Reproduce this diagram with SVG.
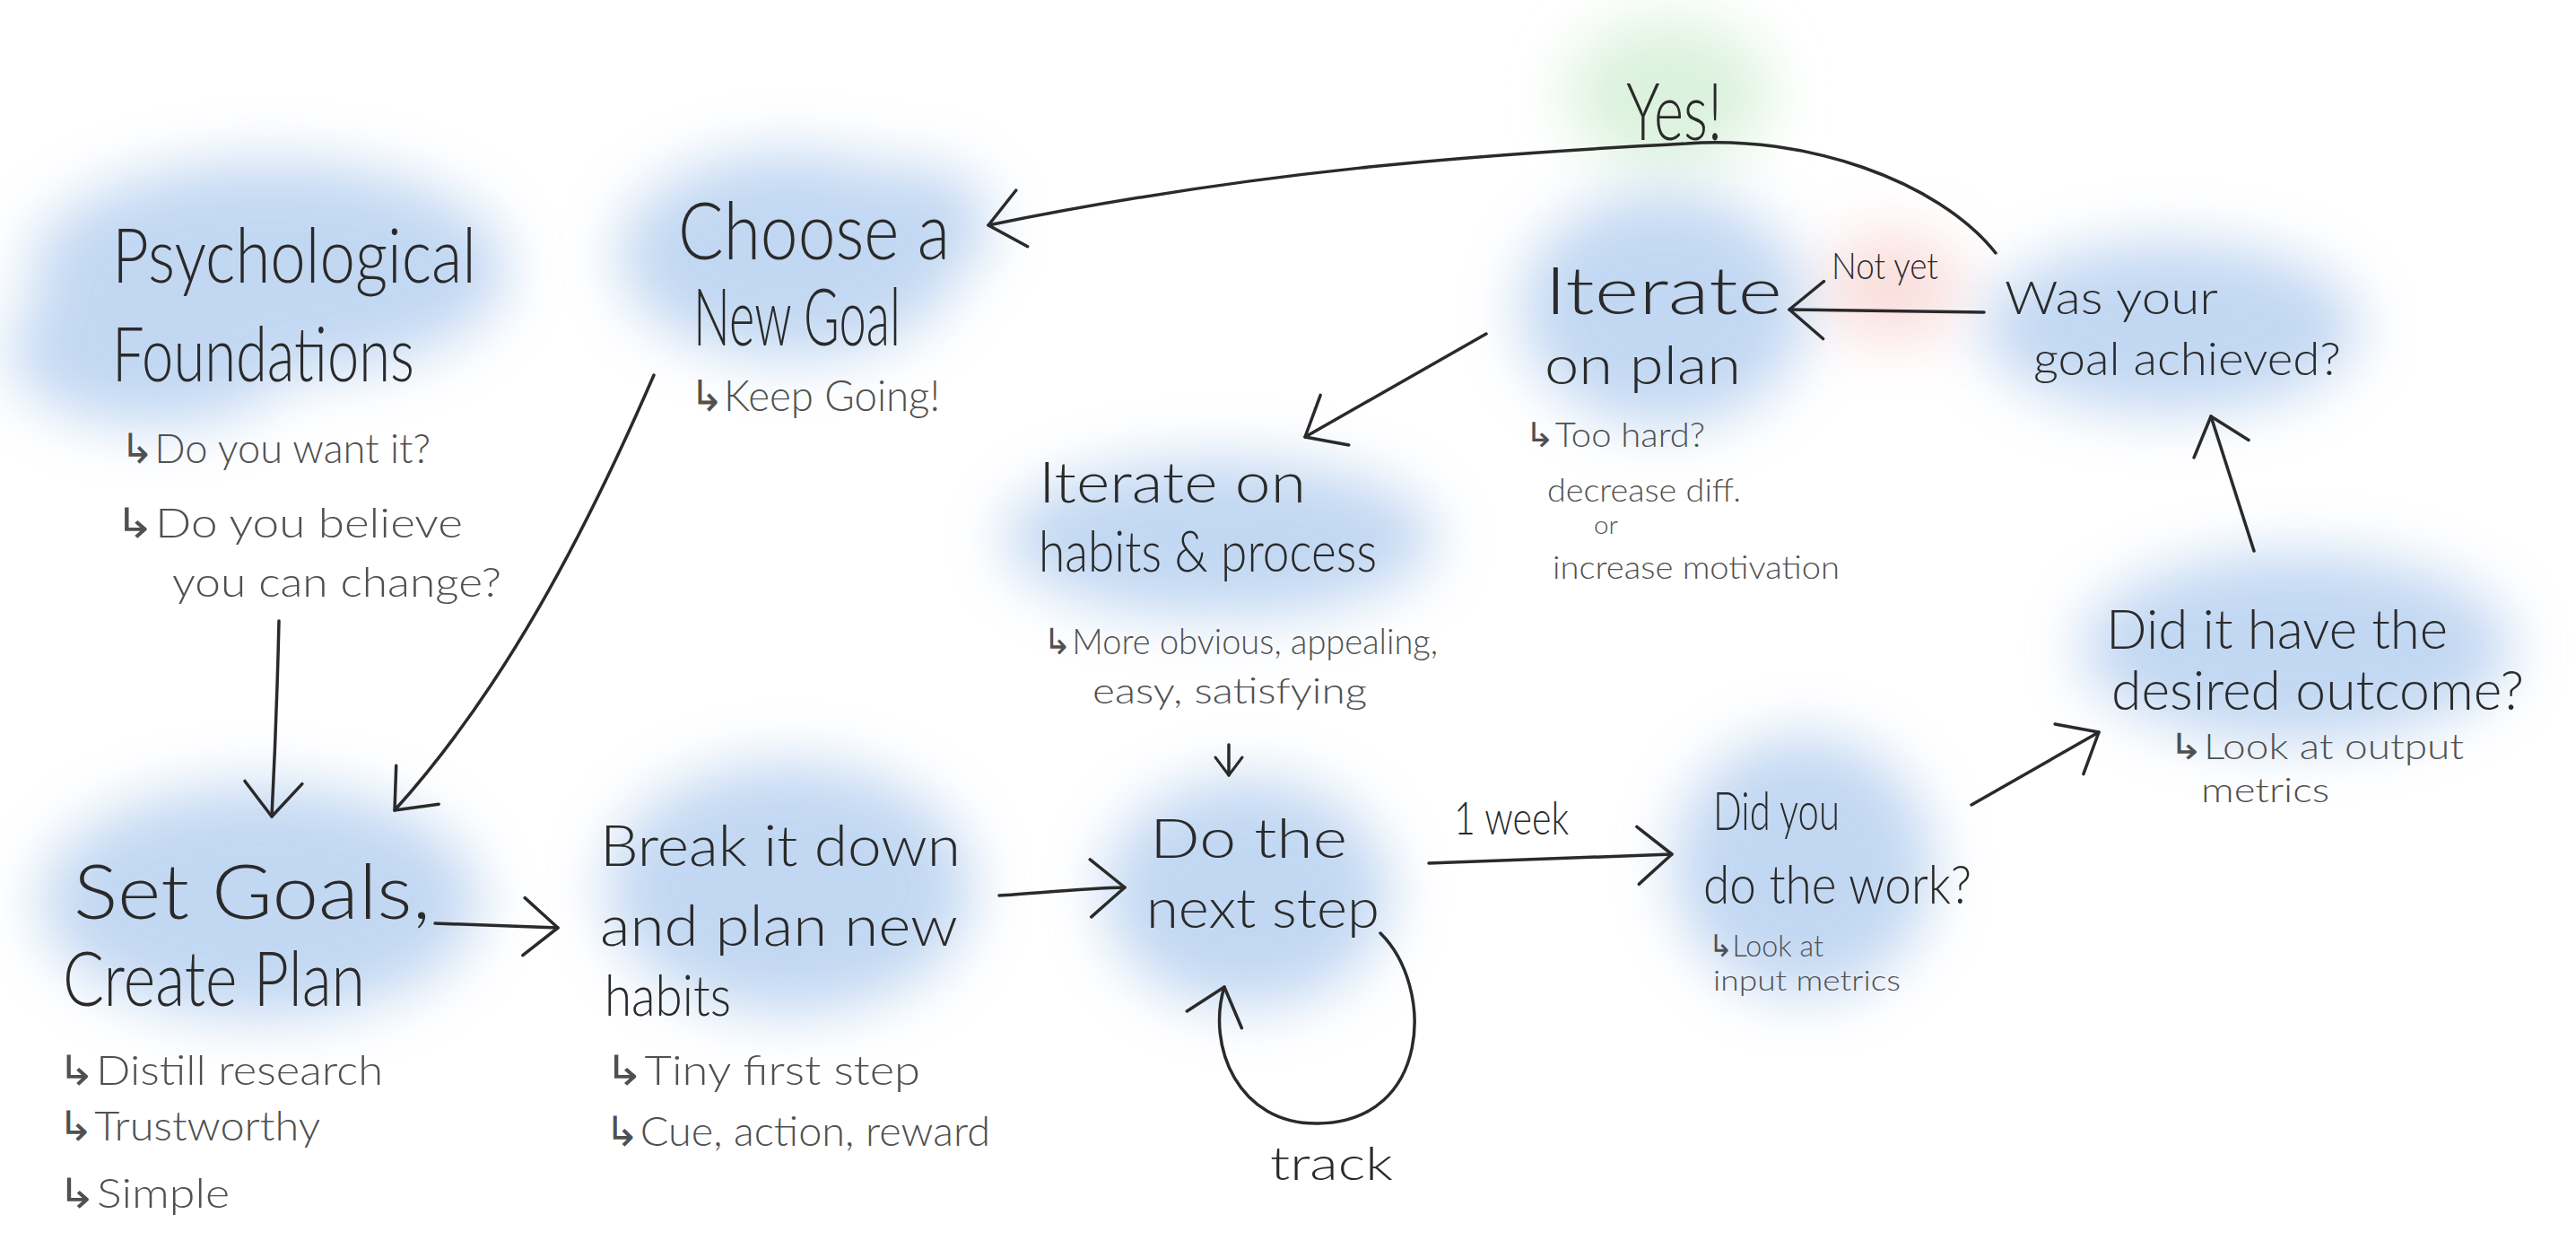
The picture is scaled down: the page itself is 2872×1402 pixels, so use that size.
<svg xmlns="http://www.w3.org/2000/svg" width="2872" height="1402" viewBox="0 0 2872 1402">
<defs>
<filter id="wash" x="-50%" y="-50%" width="200%" height="200%"><feGaussianBlur stdDeviation="32"/></filter>
<marker id="ah" viewBox="-50 -40 60 80" markerWidth="60" markerHeight="80" refX="0" refY="0" orient="auto" markerUnits="userSpaceOnUse"><path d="M-38,-32 L0,0 L-38,32" fill="none" stroke="#2a2a2a" stroke-width="3.5" stroke-linecap="round" stroke-linejoin="round"/></marker>
<marker id="ahs" viewBox="-30 -20 40 40" markerWidth="40" markerHeight="40" refX="0" refY="0" orient="auto" markerUnits="userSpaceOnUse"><path d="M-20,-15 L0,0 L-20,15" fill="none" stroke="#2a2a2a" stroke-width="3" stroke-linecap="round" stroke-linejoin="round"/></marker>
</defs>
<style>
text{font-family:"Lato","Liberation Sans","DejaVu Sans",sans-serif;font-weight:300;fill:#2a2a2a}
.sub{fill:#505050}
.wash{filter:url(#wash);opacity:.62}
.blue{fill:#9dc0ea}
.green{fill:#c6eac9}
.red{fill:#f6cbc7}
.conn{fill:none;stroke:#2a2a2a;stroke-width:3.5;stroke-linecap:round;stroke-linejoin:round}
</style>
<rect width="2872" height="1402" fill="#ffffff"/>

<g id="node-psych">
<g class="wash blue"><ellipse cx="300" cy="300" rx="265" ry="120"/><ellipse cx="170" cy="390" rx="160" ry="85"/></g>
<text x="125" y="315" font-size="84" textLength="406" lengthAdjust="spacingAndGlyphs">Psychological</text>
<text x="125" y="425" font-size="84" textLength="337" lengthAdjust="spacingAndGlyphs">Foundations</text>
<text class="sub" x="134" y="516" font-size="46" textLength="346" lengthAdjust="spacingAndGlyphs">↳Do you want it?</text>
<text class="sub" x="128" y="599" font-size="46" textLength="388" lengthAdjust="spacingAndGlyphs">↳Do you believe</text>
<text class="sub" x="192" y="665" font-size="46" textLength="367" lengthAdjust="spacingAndGlyphs">you can change?</text>
</g>

<g id="node-choose">
<g class="wash blue"><ellipse cx="880" cy="285" rx="190" ry="115"/><ellipse cx="1010" cy="250" rx="95" ry="65"/></g>
<text x="756" y="289" font-size="88" textLength="303" lengthAdjust="spacingAndGlyphs">Choose a</text>
<text x="773" y="385" font-size="88" textLength="231" lengthAdjust="spacingAndGlyphs">New Goal</text>
<text class="sub" x="769" y="458" font-size="48" textLength="279" lengthAdjust="spacingAndGlyphs">↳Keep Going!</text>
</g>

<g id="node-yes">
<g class="wash green"><ellipse cx="1860" cy="105" rx="115" ry="85"/></g>
<text x="1813" y="156" font-size="88" textLength="107" lengthAdjust="spacingAndGlyphs">Yes!</text>
</g>

<g id="node-notyet">
<g class="wash red"><ellipse cx="2110" cy="320" rx="80" ry="62"/></g>
<text x="2042" y="311" font-size="42" textLength="119" lengthAdjust="spacingAndGlyphs">Not yet</text>
</g>

<g id="node-iterate-plan">
<g class="wash blue"><ellipse cx="1855" cy="345" rx="160" ry="130"/></g>
<text x="1722" y="350" font-size="72" textLength="265" lengthAdjust="spacingAndGlyphs">Iterate</text>
<text x="1722" y="428" font-size="60" textLength="219" lengthAdjust="spacingAndGlyphs">on plan</text>
<text class="sub" x="1700" y="498" font-size="38" textLength="201" lengthAdjust="spacingAndGlyphs">↳Too hard?</text>
<text class="sub" x="1725" y="559" font-size="36" textLength="216" lengthAdjust="spacingAndGlyphs">decrease diff.</text>
<text class="sub" x="1777" y="595" font-size="28" textLength="27" lengthAdjust="spacingAndGlyphs">or</text>
<text class="sub" x="1731" y="645" font-size="36" textLength="320" lengthAdjust="spacingAndGlyphs">increase motivation</text>
</g>

<g id="node-achieved">
<g class="wash blue"><ellipse cx="2420" cy="365" rx="210" ry="95"/></g>
<text x="2235" y="350" font-size="52" textLength="238" lengthAdjust="spacingAndGlyphs">Was your</text>
<text x="2267" y="418" font-size="52" textLength="343" lengthAdjust="spacingAndGlyphs">goal achieved?</text>
</g>

<g id="node-iterate-habits">
<g class="wash blue"><ellipse cx="1360" cy="600" rx="240" ry="88"/></g>
<text x="1158" y="560" font-size="64" textLength="298" lengthAdjust="spacingAndGlyphs">Iterate on</text>
<text x="1158" y="637" font-size="64" textLength="377" lengthAdjust="spacingAndGlyphs">habits &amp; process</text>
<text class="sub" x="1163" y="729" font-size="40" textLength="440" lengthAdjust="spacingAndGlyphs">↳More obvious, appealing,</text>
<text class="sub" x="1218" y="784" font-size="40" textLength="306" lengthAdjust="spacingAndGlyphs">easy, satisfying</text>
</g>

<g id="node-do">
<g class="wash blue"><ellipse cx="1390" cy="995" rx="160" ry="128"/></g>
<text x="1282" y="956" font-size="62" textLength="220" lengthAdjust="spacingAndGlyphs">Do the</text>
<text x="1278" y="1034" font-size="62" textLength="260" lengthAdjust="spacingAndGlyphs">next step</text>
</g>

<g id="node-didyou">
<g class="wash blue"><ellipse cx="2010" cy="965" rx="145" ry="145"/></g>
<text x="1910" y="925" font-size="60" textLength="141" lengthAdjust="spacingAndGlyphs">Did you</text>
<text x="1899" y="1007" font-size="60" textLength="299" lengthAdjust="spacingAndGlyphs">do the work?</text>
<text class="sub" x="1905" y="1066" font-size="34" textLength="128" lengthAdjust="spacingAndGlyphs">↳Look at</text>
<text class="sub" x="1910" y="1104" font-size="32" textLength="209" lengthAdjust="spacingAndGlyphs">input metrics</text>
</g>

<g id="node-outcome">
<g class="wash blue"><ellipse cx="2560" cy="722" rx="240" ry="105"/></g>
<text x="2348" y="723" font-size="62" textLength="381" lengthAdjust="spacingAndGlyphs">Did it have the</text>
<text x="2354" y="791" font-size="62" textLength="460" lengthAdjust="spacingAndGlyphs">desired outcome?</text>
<text class="sub" x="2418" y="846" font-size="40" textLength="329" lengthAdjust="spacingAndGlyphs">↳Look at output</text>
<text class="sub" x="2454" y="894" font-size="38" textLength="143" lengthAdjust="spacingAndGlyphs">metrics</text>
</g>

<g id="node-setgoals">
<g class="wash blue"><ellipse cx="290" cy="1005" rx="245" ry="130"/></g>
<text x="82" y="1024" font-size="84" textLength="398" lengthAdjust="spacingAndGlyphs">Set Goals,</text>
<text x="70" y="1121" font-size="84" textLength="337" lengthAdjust="spacingAndGlyphs">Create Plan</text>
<text class="sub" x="64" y="1209" font-size="46" textLength="363" lengthAdjust="spacingAndGlyphs">↳Distill research</text>
<text class="sub" x="64" y="1271" font-size="46" textLength="293" lengthAdjust="spacingAndGlyphs">↳Trustworthy</text>
<text class="sub" x="64" y="1346" font-size="46" textLength="192" lengthAdjust="spacingAndGlyphs">↳Simple</text>
</g>

<g id="node-break">
<g class="wash blue"><ellipse cx="880" cy="990" rx="205" ry="140"/></g>
<text x="669" y="965" font-size="64" textLength="402" lengthAdjust="spacingAndGlyphs">Break it down</text>
<text x="669" y="1054" font-size="64" textLength="399" lengthAdjust="spacingAndGlyphs">and plan new</text>
<text x="674" y="1132" font-size="64" textLength="141" lengthAdjust="spacingAndGlyphs">habits</text>
<text class="sub" x="674" y="1209" font-size="46" textLength="352" lengthAdjust="spacingAndGlyphs">↳Tiny first step</text>
<text class="sub" x="674" y="1277" font-size="46" textLength="430" lengthAdjust="spacingAndGlyphs">↳Cue, action, reward</text>
</g>

<g id="labels">
<text x="1416" y="1315" font-size="52" textLength="137" lengthAdjust="spacingAndGlyphs">track</text>
<text x="1621" y="930" font-size="52" textLength="128" lengthAdjust="spacingAndGlyphs">1 week</text>
</g>

<g id="connectors">
<path class="conn" marker-end="url(#ah)" d="M311,692 C309,780 306,850 303,910"/>
<path class="conn" marker-end="url(#ah)" d="M729,418 C650,600 560,770 440,903"/>
<path class="conn" marker-end="url(#ah)" d="M2225,282 C2160,200 2010,150 1880,160 C1650,172 1400,190 1102,251"/>
<path class="conn" marker-end="url(#ah)" d="M2212,348 L1995,345"/>
<path class="conn" marker-end="url(#ah)" d="M1657,372 L1455,487"/>
<path class="conn" marker-end="url(#ahs)" d="M1370,830 L1370,864"/>
<path class="conn" marker-end="url(#ah)" d="M1114,998 C1160,995 1210,990 1254,989"/>
<path class="conn" marker-end="url(#ah)" d="M485,1029 L622,1034"/>
<path class="conn" marker-end="url(#ah)" d="M1539,1040 C1600,1100 1595,1250 1470,1252 C1380,1254 1345,1165 1365,1100"/>
<path class="conn" marker-end="url(#ah)" d="M1593,962 L1864,952"/>
<path class="conn" marker-end="url(#ah)" d="M2198,897 L2340,816"/>
<path class="conn" marker-end="url(#ah)" d="M2513,614 L2465,464"/>
</g>
</svg>
